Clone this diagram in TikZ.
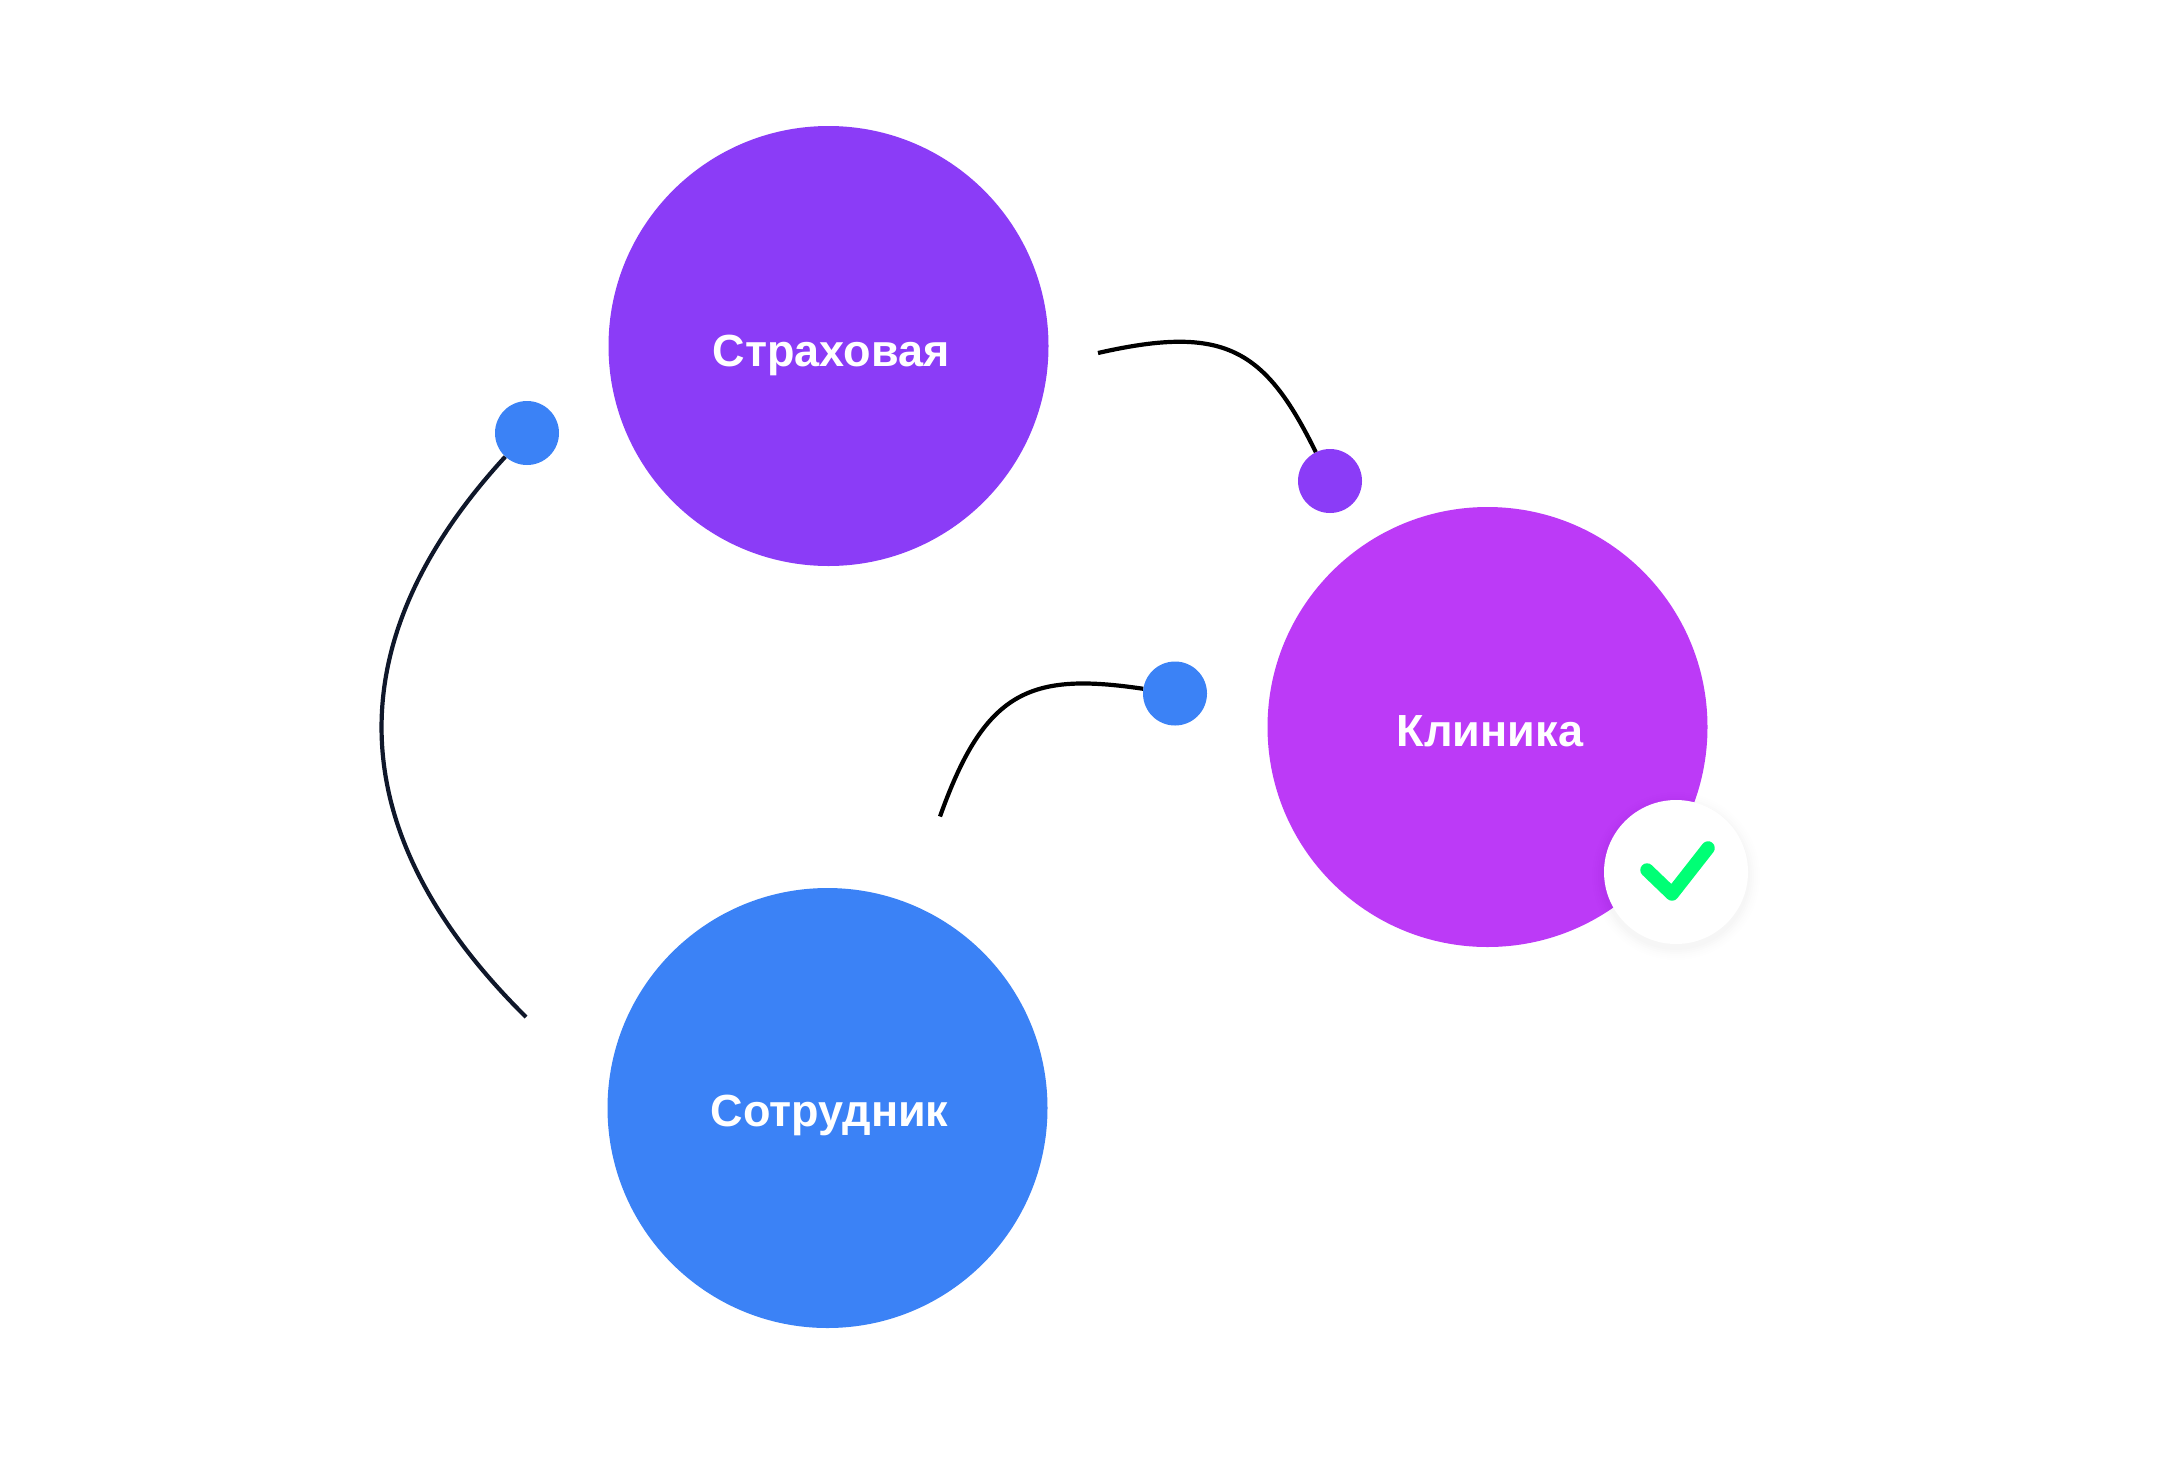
\documentclass[tikz,border=0pt]{standalone}
\usepackage{fontspec}
\setmainfont{Liberation Sans}
\definecolor{cpurple}{HTML}{8B3CF7}
\definecolor{cmagenta}{HTML}{BC3AF7}
\definecolor{cblue}{HTML}{3B82F6}
\definecolor{cgreen}{HTML}{00FF75}
\definecolor{cnavy}{HTML}{0F172A}
\tikzset{
  bigcircle/.style={circle,minimum size=440pt,inner sep=0pt},
  bigtext/.style={text=white,font=\fontsize{45}{45}\selectfont\bfseries},
  dotnode/.style={circle,minimum size=64pt,inner sep=0pt},
  curve/.style={line width=4.2pt,black},
  checkmark/.style={line width=13.5pt,cgreen,line cap=round,line join=round}
}
\begin{document}
\begin{tikzpicture}[x=1pt,y=-1pt]
\useasboundingbox (0,0) rectangle (2170,1462);
\fill[white] (0,0) rectangle (2170,1462);
\node[bigcircle,fill=cpurple] (ins) at (828.5,346) {};
\node[bigcircle,fill=cblue] (emp) at (827.5,1108) {};
\node[bigcircle,fill=cmagenta] (cli) at (1487.5,727) {};
\node[bigtext] (insT) at (831,355) {Страховая};
\node[bigtext] (empT) at (829.5,1115) {Сотрудник};
\node[bigtext] (cliT) at (1490,731) {Клиника};
\foreach \r/\o in {84/0.003,82/0.004,80/0.005,78/0.006,76/0.007,74/0.008}
  \fill[black,opacity=\o] (1676,876) circle (\r);
\node[circle,minimum size=144pt,inner sep=0pt,fill=white] (chk) at (1676,872) {};
\coordinate (ck1) at (1647,870);
\coordinate (ck2) at (1672,894);
\coordinate (ck3) at (1708,848);
\draw[checkmark] (ck1) -- (ck2) -- (ck3);
\node[dotnode,fill=cpurple] (d1) at (1330,481) {};
\node[dotnode,fill=cblue] (d2) at (1175,693.5) {};
\node[dotnode,fill=cblue] (d3) at (527,433) {};
\coordinate (s1) at (1098,353);
\coordinate (s2) at (940,816.5);
\coordinate (s3) at (526,1017);
\draw[curve] (s1) .. controls (1225,324) and (1265,349) .. (d1);
\draw[curve] (s2) .. controls (985,690) and (1030,672) .. (d2);
\draw[curve,cnavy] (s3) .. controls (337,830) and (337,640) .. (d3);
\end{tikzpicture}
\end{document}
